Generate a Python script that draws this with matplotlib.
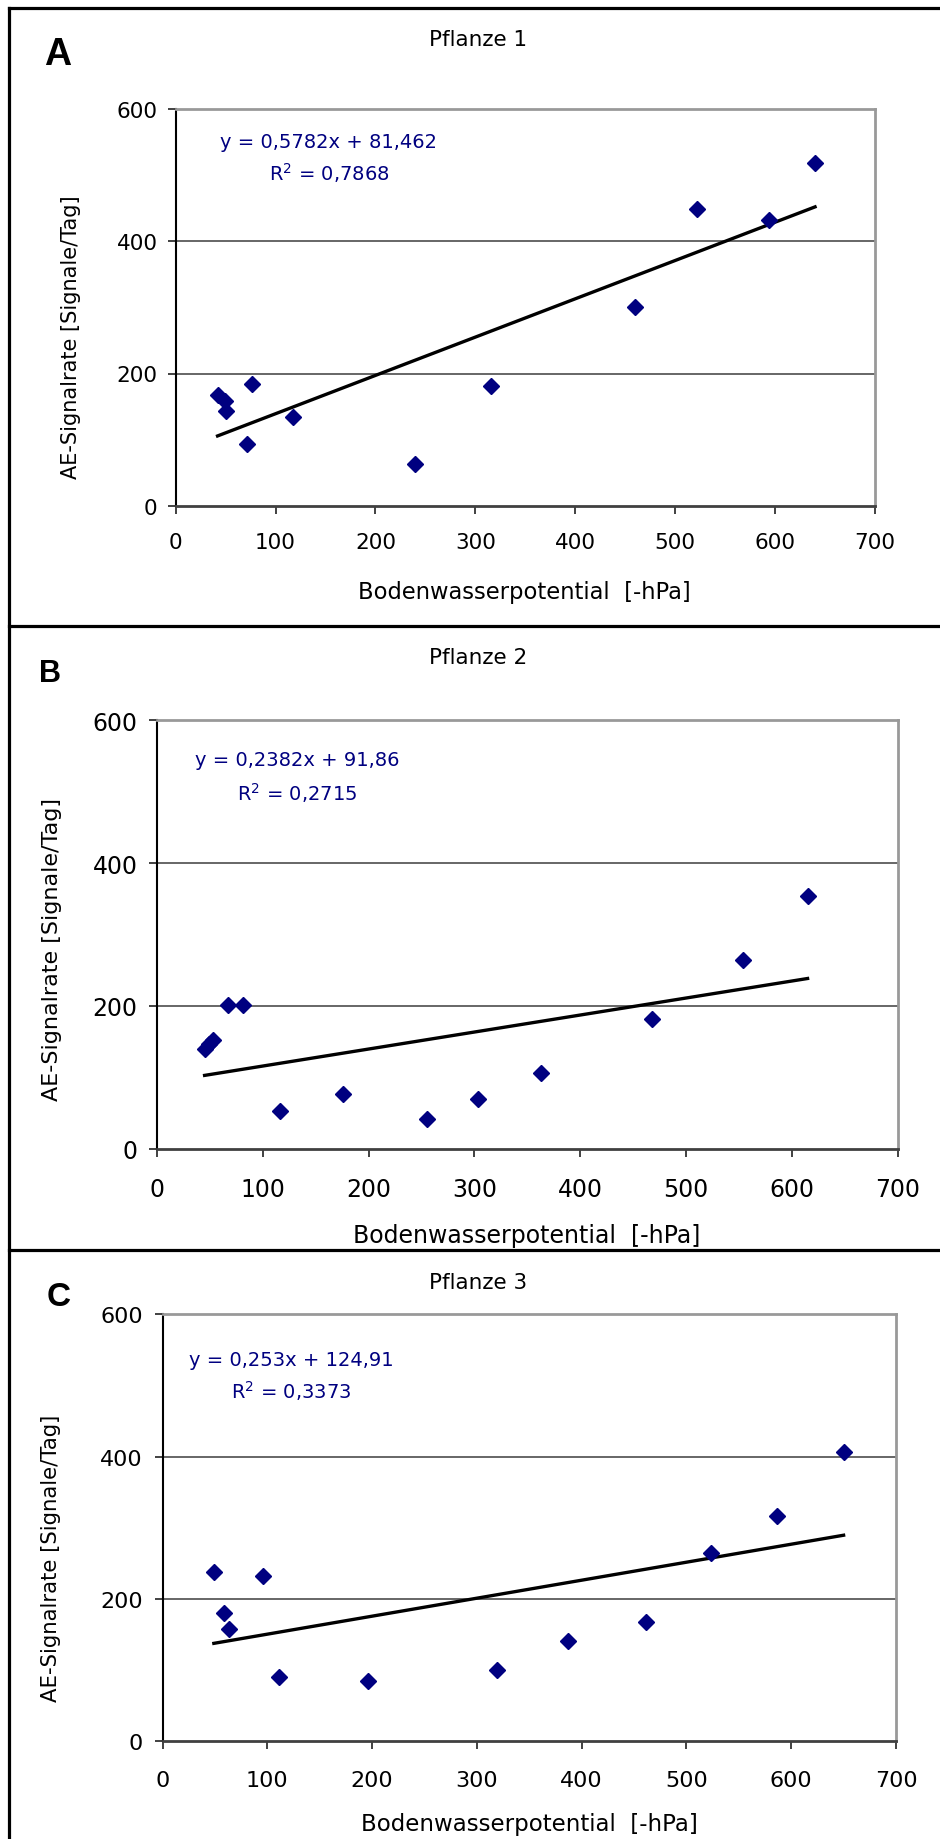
import matplotlib
matplotlib.use("Agg")
import matplotlib.pyplot as plt
from matplotlib.lines import Line2D
import numpy as np

# Pflanze 1 (A)
x_a = [42, 49, 50, 71, 76, 118, 240, 316, 460, 522, 594, 640]
y_a = [167, 158, 143, 94, 184, 134, 63, 181, 300, 449, 431, 518]
fit_a = (0.5782, 81.462)
eq_a = ["y = 0,5782x + 81,462", "R$^2$ = 0,7868"]

# Pflanze 2 (B)
x_b = [45, 49, 53, 67, 81, 116, 176, 255, 303, 363, 468, 554, 615]
y_b = [140, 147, 152, 201, 201, 53, 77, 42, 69, 106, 182, 264, 354]
fit_b = (0.2382, 91.86)
eq_b = ["y = 0,2382x + 91,86", "R$^2$ = 0,2715"]

# Pflanze 3 (C)
x_c = [49, 59, 63, 96, 111, 196, 319, 387, 461, 523, 586, 650]
y_c = [237, 180, 157, 232, 90, 85, 100, 140, 168, 265, 317, 407]
fit_c = (0.253, 124.91)
eq_c = ["y = 0,253x + 124,91", "R$^2$ = 0,3373"]

titles = ["Pflanze 1", "Pflanze 2", "Pflanze 3"]
letters = ["A", "B", "C"]
x_ticks = [0, 100, 200, 300, 400, 500, 600, 700]
y_ticks = [0, 200, 400, 600]
xlabel = "Bodenwasserpotential  [-hPa]"
ylabel = "AE-Signalrate [Signale/Tag]"

W, H = 940, 1840
NAVY = "#000080"


def fx(px):
    return px / W


def fy(py):
    return 1 - py / H


fig = plt.figure(figsize=(W / 100, H / 100), dpi=100)

# layout of each panel in pixels
panels = [
    dict(x=x_a, y=y_a, fit=fit_a, eq=eq_a,
         box=(175.6, 109.5, 875, 507), tick=15.5, xpad=13, ypad=7,
         title_y=40, letter=(58, 55, 27), eq_xy=(329, 142, 173),
         xlab=(524, 593, 16.3), ylab=(71, 337, 15)),
    dict(x=x_b, y=y_b, fit=fit_b, eq=eq_b,
         box=(157, 721.4, 897.5, 1149.6), tick=17, xpad=14.5, ypad=8,
         title_y=658, letter=(50, 674, 22), eq_xy=(297, 761, 792.6),
         xlab=(527, 1236, 17), ylab=(52, 950, 16)),
    dict(x=x_c, y=y_c, fit=fit_c, eq=eq_c,
         box=(162.5, 1315.3, 896, 1742), tick=16, xpad=15, ypad=8,
         title_y=1283, letter=(59, 1297, 24), eq_xy=(291, 1361, 1391),
         xlab=(529, 1825, 16.5), ylab=(51, 1558, 15.3)),
]

for i, p in enumerate(panels):
    l, t, r, b = p["box"]
    ax = fig.add_axes([fx(l), fy(b), (r - l) / W, (b - t) / H])
    ax.set_xlim(0, 700)
    ax.set_ylim(0, 600)
    ax.set_xticks(x_ticks)
    ax.set_yticks(y_ticks)

    # grid lines only between the frame lines
    for yv in y_ticks[1:-1]:
        ax.axhline(yv, color="#4d4d4d", lw=1.2, zorder=1)

    ax.spines["left"].set_color("black")
    ax.spines["left"].set_linewidth(1.5)
    ax.spines["bottom"].set_color("#404040")
    ax.spines["bottom"].set_linewidth(2)
    for s in ["top", "right"]:
        ax.spines[s].set_color("#999999")
        ax.spines[s].set_linewidth(2)

    ax.tick_params(axis="both", direction="out", length=6, width=1.3,
                   color="#333333", labelsize=p["tick"])
    ax.tick_params(axis="x", pad=p["xpad"])
    ax.tick_params(axis="y", pad=p["ypad"])

    # trend line from the printed regression
    xs = np.array([min(p["x"]), max(p["x"])])
    slope, icpt = p["fit"]
    ax.plot(xs, slope * xs + icpt, color="black", lw=2.4, zorder=2)

    ax.plot(p["x"], p["y"], linestyle="none", marker="D", ms=8,
            color=NAVY, zorder=3, clip_on=False)

    # texts
    fig.text(fx(478), fy(p["title_y"]), titles[i], ha="center",
             va="center", fontsize=15.5)
    lx, ly, ls = p["letter"]
    fig.text(fx(lx), fy(ly), letters[i], ha="center", va="center",
             fontsize=ls, fontweight="bold", family="Liberation Sans")
    ex, ey1, ey2 = p["eq_xy"]
    fig.text(fx(ex), fy(ey1), p["eq"][0], ha="center", va="center",
             fontsize=14, color=NAVY)
    fig.text(fx(ex), fy(ey2), p["eq"][1], ha="center", va="center",
             fontsize=14, color=NAVY)
    xx, xy, xs_ = p["xlab"]
    fig.text(fx(xx), fy(xy), xlabel, ha="center", va="center", fontsize=xs_)
    yx, yy, ys_ = p["ylab"]
    fig.text(fx(yx), fy(yy), ylabel, ha="center", va="center",
             rotation=90, fontsize=ys_)

# outer frame and separators
frame = dict(color="black", lw=2.3, transform=fig.transFigure)
fig.add_artist(Line2D([fx(8.5), fx(8.5)], [fy(9), fy(H)], **frame))
fig.add_artist(Line2D([fx(8.5), fx(W)], [fy(9), fy(9)], **frame))
fig.add_artist(Line2D([fx(8.5), fx(W)], [fy(627), fy(627)], **frame))
fig.add_artist(Line2D([fx(8.5), fx(W)], [fy(1251), fy(1251)], **frame))

fig.savefig("out.png", dpi=100, facecolor="white")
